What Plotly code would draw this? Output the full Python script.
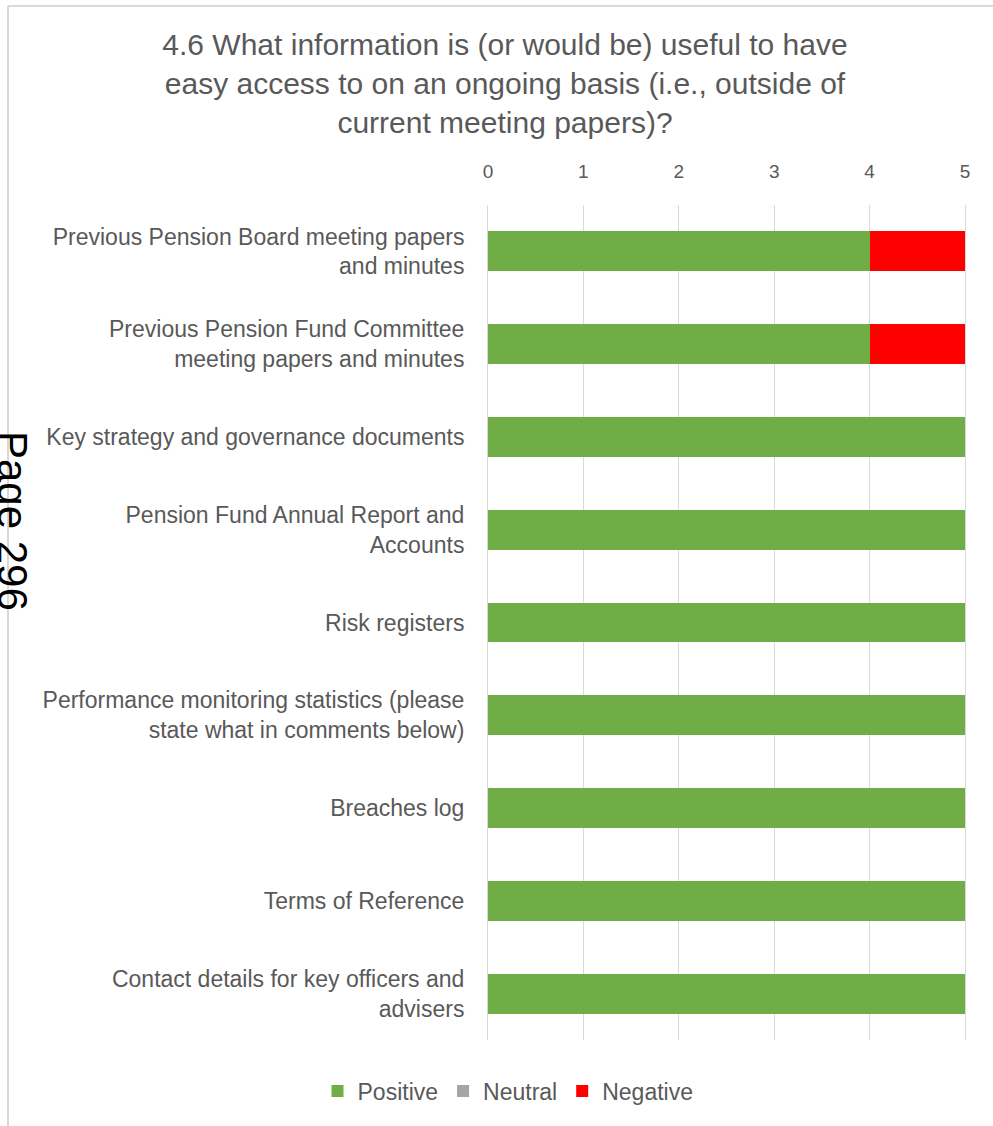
import plotly.graph_objects as go

categories = [
    "Previous Pension Board meeting papers<br>and minutes",
    "Previous Pension Fund Committee<br>meeting papers and minutes",
    "Key strategy and governance documents",
    "Pension Fund Annual Report and<br>Accounts",
    "Risk registers",
    "Performance monitoring statistics (please<br>state what in comments below)",
    "Breaches log",
    "Terms of Reference",
    "Contact details for key officers and<br>advisers",
]
positive = [4, 4, 5, 5, 5, 5, 5, 5, 5]
neutral = [0, 0, 0, 0, 0, 0, 0, 0, 0]
negative = [1, 1, 0, 0, 0, 0, 0, 0, 0]
x_ticks = [0, 1, 2, 3, 4, 5]

W, H = 993, 1126
L, R, T, B = 488, 965, 205, 1040

def px_x(p):
    return (p - L) / (R - L)

def px_y(p):
    return (B - p) / (B - T)

FONT = "Liberation Sans, Arial, sans-serif"
GRID = "#d9d9d9"

fig = go.Figure()
fig.add_bar(y=categories, x=positive, name="Positive", orientation="h",
            marker=dict(color="#70ad47", line=dict(width=0)))
fig.add_bar(y=categories, x=neutral, name="Neutral", orientation="h",
            marker=dict(color="#a5a5a5", line=dict(width=0)))
fig.add_bar(y=categories, x=negative, name="Negative", orientation="h",
            marker=dict(color="#ff0000", line=dict(width=0)))

fig.update_layout(
    width=W, height=H,
    margin=dict(l=L, r=W - R, t=T, b=H - B, pad=0),
    barmode="stack",
    bargap=0.57,
    paper_bgcolor="white",
    plot_bgcolor="white",
    font=dict(family=FONT, color="#595959"),
    title=dict(
        text="4.6 What information is (or would be) useful to have<br>easy access to on an ongoing basis (i.e., outside of<br>current meeting papers)?",
        x=505 / W, xanchor="center", xref="container",
        y=1 - 55 / H, yanchor="top", yref="container",
        font=dict(size=30, color="#595959", family=FONT),
    ),
    xaxis=dict(
        side="top", range=[0, 5], tickvals=x_ticks, ticktext=[str(v) for v in x_ticks],
        showgrid=True, gridcolor=GRID, gridwidth=1,
        zeroline=False, showline=False, ticks="",
        tickfont=dict(size=19, color="#595959"),
        ticklabelstandoff=22,
    ),
    yaxis=dict(
        autorange="reversed", showgrid=False, zeroline=False,
        showline=True, linecolor=GRID, linewidth=1, mirror=True, layer="below traces",
        ticks="",
        tickfont=dict(size=23, color="#595959"),
        ticklabelstandoff=18,
    ),
    legend=dict(
        orientation="h", x=px_x(508), xanchor="center", y=px_y(1091), yanchor="middle",
        font=dict(size=23, color="#595959"), traceorder="normal",
        itemwidth=30, bgcolor="rgba(0,0,0,0)",
    ),
    showlegend=True,
)

# chart border (top and left)
fig.add_shape(type="line", xref="paper", yref="paper",
              x0=px_x(8), x1=px_x(W + 5), y0=px_y(6), y1=px_y(6),
              line=dict(color=GRID, width=2))
fig.add_shape(type="line", xref="paper", yref="paper",
              x0=px_x(8), x1=px_x(8), y0=px_y(6), y1=px_y(H + 5),
              line=dict(color=GRID, width=2))

fig.add_annotation(
    text="Page 296", xref="paper", yref="paper",
    x=px_x(13), y=px_y(521), xanchor="center", yanchor="middle",
    textangle=90, showarrow=False,
    font=dict(size=42, color="black", family=FONT),
)

fig.write_html("out.html")
